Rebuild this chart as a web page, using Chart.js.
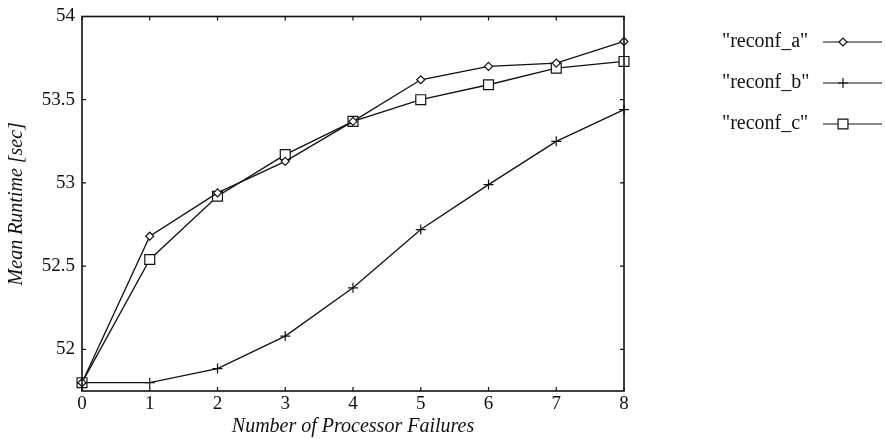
<!DOCTYPE html>
<html>
<head>
<meta charset="utf-8">
<script src="https://cdn.jsdelivr.net/npm/chart.js@4/dist/chart.umd.min.js"></script>
<style>
  body { margin: 0; background: #fff; }
  #wrap { width: 885px; height: 439px; position: relative; }
</style>
</head>
<body>
<div id="wrap"><canvas id="myChart"></canvas></div>
<script>
// values
const failures = ["0", "1", "2", "3", "4", "5", "6", "7", "8"];
const reconfA = [51.80, 52.68, 52.94, 53.13, 53.37, 53.62, 53.70, 53.72, 53.85];
const reconfB = [51.80, 51.80, 51.885, 52.08, 52.37, 52.72, 52.99, 53.25, 53.44];
const reconfC = [51.80, 52.54, 52.92, 53.17, 53.37, 53.50, 53.59, 53.69, 53.73];
const yTicks = [52, 52.5, 53, 53.5, 54];

const ink = "#111";
const serif = "'Liberation Serif', 'DejaVu Serif', serif";

// Rahmen mit nach innen zeigenden Ticks auf allen vier Seiten
const framePlugin = {
  id: "frame",
  afterDatasetsDraw(chart) {
    const { ctx, chartArea: a, scales } = chart;
    const x = scales.x, y = scales.y;
    ctx.save();
    ctx.strokeStyle = ink;
    ctx.lineWidth = 1.6;
    ctx.strokeRect(a.left, a.top, a.right - a.left, a.bottom - a.top);
    ctx.lineWidth = 1.2;
    ctx.beginPath();
    x.ticks.forEach((t, i) => {
      const px = x.getPixelForTick(i);
      ctx.moveTo(px, a.bottom); ctx.lineTo(px, a.bottom - 4);
      ctx.moveTo(px, a.top); ctx.lineTo(px, a.top + 4);
    });
    y.ticks.forEach((t, i) => {
      const py = y.getPixelForTick(i);
      ctx.moveTo(a.left, py); ctx.lineTo(a.left + 4, py);
      ctx.moveTo(a.right, py); ctx.lineTo(a.right - 4, py);
    });
    ctx.stroke();
    ctx.restore();
  }
};

// Legende im gnuplot-Stil: Text links, Linie mit Marker rechts
const legendPlugin = {
  id: "gnuLegend",
  afterDraw(chart) {
    const ctx = chart.ctx;
    ctx.save();
    ctx.font = "20px " + serif;
    ctx.textBaseline = "middle";
    chart.data.datasets.forEach((ds, i) => {
      const yy = 42 + i * 41;
      ctx.fillStyle = ink;
      ctx.fillText('"' + ds.label + '"', 722, yy);
      ctx.strokeStyle = ink;
      ctx.lineWidth = 1.2;
      ctx.beginPath();
      ctx.moveTo(823, yy); ctx.lineTo(882, yy);
      ctx.stroke();
      ctx.fillStyle = "#fff";
      Chart.helpers.drawPoint(ctx, {
        pointStyle: ds.pointStyle,
        radius: ds.pointRadius,
        rotation: 0,
        borderWidth: 1.2
      }, 843, yy);
    });
    ctx.restore();
  }
};

function series(label, data, style, radius) {
  return {
    label: label,
    data: data,
    borderColor: ink,
    borderWidth: 1.3,
    backgroundColor: "#fff",
    pointStyle: style,
    pointRadius: radius,
    pointBorderColor: ink,
    pointBackgroundColor: "#fff",
    pointBorderWidth: 1.2,
    tension: 0,
    fill: false
  };
}

const ctx = document.getElementById("myChart").getContext("2d");
const myChart = new Chart(ctx, {
  type: "line",
  data: {
    labels: failures,
    datasets: [
      series("reconf_a", reconfA, "rectRot", 4),
      series("reconf_b", reconfB, "cross", 5),
      series("reconf_c", reconfC, "rect", 7)
    ]
  },
  options: {
    responsive: true,
    maintainAspectRatio: false,
    animation: false,
    layout: { padding: { left: 0, top: 14, right: 261, bottom: 0 } },
    plugins: {
      legend: { display: false },
      tooltip: { enabled: false }
    },
    scales: {
      x: {
        offset: false,
        grid: { display: false, drawTicks: false },
        border: { display: false },
        ticks: { color: ink, font: { family: serif, size: 19 }, padding: 2, maxRotation: 0 },
        title: {
          display: true,
          text: "Number of Processor Failures",
          color: ink,
          font: { family: serif, size: 20, style: "italic" },
          padding: 0
        },
        afterFit: (s) => { s.height = 48; }
      },
      y: {
        min: 51.75,
        max: 54,
        grid: { display: false, drawTicks: false },
        border: { display: false },
        afterBuildTicks: (s) => { s.ticks = yTicks.map((v) => ({ value: v })); },
        ticks: {
          color: ink,
          font: { family: serif, size: 19, lineHeight: 1 },
          padding: 7,
          callback: (v) => String(v)
        },
        title: {
          display: true,
          text: "Mean Runtime [sec]",
          color: ink,
          font: { family: serif, size: 20, style: "italic" },
          padding: { top: 5, bottom: 0 }
        },
        afterFit: (s) => { s.width = 82; }
      }
    }
  },
  plugins: [framePlugin, legendPlugin]
});
</script>
</body>
</html>
